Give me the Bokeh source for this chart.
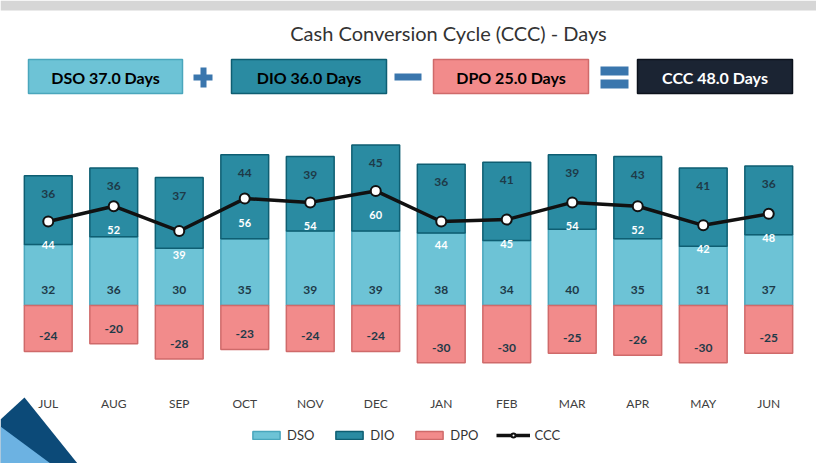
from bokeh.plotting import figure
from bokeh.models import (ColumnDataSource, Label, BoxAnnotation, PolyAnnotation,
                          Legend, LegendItem, FactorRange, Range1d)
from bokeh.core.properties import value
from bokeh.embed import file_html
from bokeh.resources import INLINE

# ---------------- data ----------------
months = ["JUL", "AUG", "SEP", "OCT", "NOV", "DEC", "JAN", "FEB", "MAR", "APR", "MAY", "JUN"]
dso = [32, 36, 30, 35, 39, 39, 38, 34, 40, 35, 31, 37]
dio = [36, 36, 37, 44, 39, 45, 36, 41, 39, 43, 41, 36]
dpo = [-24, -20, -28, -23, -24, -24, -30, -30, -25, -26, -30, -25]
ccc = [44, 52, 39, 56, 54, 60, 44, 45, 54, 52, 42, 48]

summary_names = ["DSO", "DIO", "DPO", "CCC"]
summary_values = [37.0, 36.0, 25.0, 48.0]

W, H = 816, 463
FONT = "Lato"

C_DSO, C_DSO_L = "#6dc3d6", "#4aa6bc"
C_DIO, C_DIO_L = "#2a8ba2", "#0e5e72"
C_DPO, C_DPO_L = "#f28b8b", "#cf6a6a"
C_CCC = "#1b2433"

# frame covers the whole canvas; scales placed so bars sit where the reference has them
p = figure(x_range=FactorRange(*months, range_padding=0.229, range_padding_units="absolute"),
           y_range=Range1d(-82.7, 159.7),
           width=W, height=H, output_backend="svg", toolbar_location=None,
           min_border=0, x_axis_location=None, y_axis_location=None)
p.outline_line_color = None
p.xgrid.grid_line_color = None
p.ygrid.grid_line_color = None

src = ColumnDataSource(dict(
    m=months, dso=dso, dio=dio, dpo=dpo, ccc=ccc,
    top=[a + b for a, b in zip(dso, dio)],
    dso_t=[str(v) for v in dso], dio_t=[str(v) for v in dio],
    dpo_t=[str(v) for v in dpo], ccc_t=[str(v) for v in ccc],
))

BW = 0.73
r_dso = p.vbar(x="m", bottom=0, top="dso", width=BW, source=src,
               fill_color=C_DSO, line_color=C_DSO_L, line_width=1.5)
r_dio = p.vbar(x="m", bottom="dso", top="top", width=BW, source=src,
               fill_color=C_DIO, line_color=C_DIO_L, line_width=1.5)
r_dpo = p.vbar(x="m", bottom=0, top="dpo", width=BW, source=src,
               fill_color=C_DPO, line_color=C_DPO_L, line_width=1.5)

lbl = dict(text_font=value(FONT), text_font_size="12px", text_font_style="bold",
           text_align="center", text_baseline="middle", text_color="#1e3a48", source=src)
p.text(x="m", y=0, text="dso_t", y_offset=-16, **lbl)
p.text(x="m", y="top", text="dio_t", y_offset=18, **lbl)
p.text(x="m", y="dpo", text="dpo_t", y_offset=-15, **lbl)

r_line = p.line(x="m", y="ccc", source=src, line_color="#111111", line_width=3.5)
r_pts = p.scatter(x="m", y="ccc", source=src, size=10, fill_color="white",
                  line_color="#111111", line_width=2)
p.text(x="m", y="ccc", text="ccc_t", y_offset=24, text_font=value(FONT),
       text_font_size="11px", text_font_style="bold", text_align="center",
       text_baseline="middle", text_color="white", source=src)

# month (category) labels below the chart
p.text(x="m", y=0, text="m", y_offset=98, text_font=value(FONT), text_font_size="12px",
       text_align="center", text_baseline="middle", text_color="#404040", source=src)

# ---------- screen-space helpers (reference pixel coords) ----------
def sx(x):
    return x

def sy(y):
    return H - y

legend = Legend(items=[
    LegendItem(label="DSO", renderers=[r_dso]),
    LegendItem(label="DIO", renderers=[r_dio]),
    LegendItem(label="DPO", renderers=[r_dpo]),
    LegendItem(label="CCC", renderers=[r_line, r_pts]),
], orientation="horizontal", location=(sx(249), sy(443)), border_line_color=None,
    background_fill_alpha=0, label_text_font=FONT, label_text_font_size="13px",
    label_text_color="#333333", glyph_width=34, glyph_height=10, spacing=18,
    padding=2, margin=0, label_standoff=4)
p.add_layout(legend)

def box(l, r, t, b, fill, line=None, lw=1.5):
    p.add_layout(BoxAnnotation(left=sx(l), right=sx(r), top=sy(t), bottom=sy(b),
                               left_units="screen", right_units="screen",
                               top_units="screen", bottom_units="screen",
                               fill_color=fill, fill_alpha=1,
                               line_color=line if line else fill, line_width=lw,
                               line_alpha=1 if line else 0))

def label(x, y, text, size, color, style="normal", align="center"):
    p.add_layout(Label(x=sx(x), y=sy(y), x_units="screen", y_units="screen", text=text,
                       text_font=FONT, text_font_size=size, text_font_style=style,
                       text_color=color, text_align=align, text_baseline="middle"))

# top gray strip
box(0, 816, 0, 10, "#d6d6d6")

label(448, 32, "Cash Conversion Cycle (CCC) - Days", "20px", "#333333")

box_specs = [(28, 182, C_DSO, C_DSO_L, "black"),
             (231, 386, C_DIO, C_DIO_L, "black"),
             (433, 588, C_DPO, C_DPO_L, "black"),
             (637, 792, C_CCC, "#0c121c", "white")]
for (l, r, fc, lc, tc), nm, v in zip(box_specs, summary_names, summary_values):
    box(l, r, 59, 93, fc, lc)
    label((l + r) / 2, 76.5, f"{nm} {v:.1f} Days", "16px", tc, "bold")

SIGN = "#3a76ad"
# plus
box(193, 212, 74, 80, SIGN)
box(200, 206, 67, 87, SIGN)
# minus
box(394, 421, 73, 80, SIGN)
# equals
box(600, 628, 66, 75, SIGN)
box(600, 628, 79, 88, SIGN)

# bottom-left decoration
p.add_layout(PolyAnnotation(xs=[0, 24, 77, 0], ys=[sy(419), sy(397), sy(463), sy(463)],
                            xs_units="screen", ys_units="screen",
                            fill_color="#0c4a78", fill_alpha=1, line_alpha=0))
p.add_layout(PolyAnnotation(xs=[0, 50, 0], ys=[sy(426), sy(463), sy(463)],
                            xs_units="screen", ys_units="screen",
                            fill_color="#6cb2e2", fill_alpha=1, line_alpha=0))

open("out.html", "w").write(file_html(p, INLINE))
